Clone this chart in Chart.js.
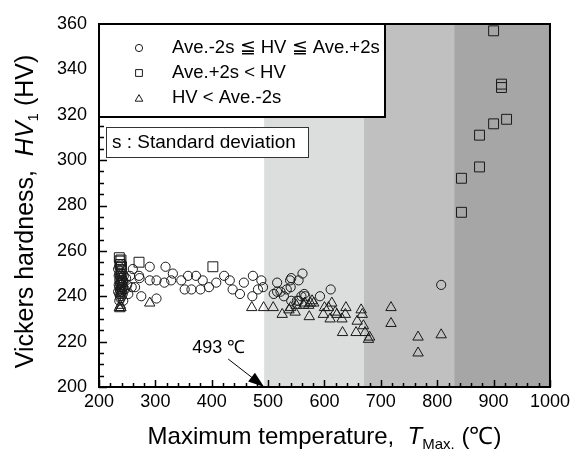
<!DOCTYPE html>
<html>
<head>
<meta charset="utf-8">
<script src="https://cdn.jsdelivr.net/npm/chart.js@4.4.1/dist/chart.umd.min.js"></script>
<style>
  body { margin: 0; background: #fff; }
  canvas { display: block; }
</style>
</head>
<body>
<canvas id="chart" width="574" height="450"></canvas>
<script>
// Maximum temperature (°C) and hardness (HV) per group
const withinT = [236, 236, 236, 236, 236, 236, 238, 238, 238, 238, 238, 238, 240, 240, 240, 240, 240,
  242, 242, 242, 242, 235, 235, 243, 243, 237, 237, 237, 237, 239, 239, 239, 239, 241, 241, 241,
  234, 234, 244, 244, 246, 248, 250, 252, 255, 258,
  260, 264, 271, 272, 275, 290, 290, 302, 302, 316, 318, 328, 331, 346, 352, 358, 364, 372, 380,
  384, 395, 408, 422, 432, 437, 450, 457, 472, 473, 482, 488, 491, 510, 516, 516, 522, 528, 533,
  539, 540, 541, 541, 551, 554, 554, 559, 561, 564, 566, 592, 611, 807];
const withinHV = [238, 241, 244, 247, 250, 253, 239, 242, 245, 248, 251, 254, 240, 243, 246, 249, 252,
  241, 244, 247, 250, 245, 249, 238, 246, 240, 243, 246, 249, 241, 244, 247, 250, 242, 245, 248,
  242, 252, 243, 249, 243, 248, 245, 241, 249, 244,
  252, 244, 249, 248, 240, 253, 247, 247, 239, 246, 253, 247, 250, 247, 243, 249, 243, 249, 243,
  247, 244, 246, 249, 247, 243, 241, 246, 240, 249, 243, 247, 244, 241, 246, 242, 242, 240, 243,
  247, 244, 248, 238, 238, 247, 238, 240, 250, 241, 240, 240, 243, 245];

const aboveT = [236, 237, 238, 239, 240, 271, 402, 843, 843, 875, 875, 900, 900, 914, 914, 923];
const aboveHV = [257, 255.5, 254, 256, 253, 255, 253, 277, 292, 297, 311, 316, 357, 332, 333.5, 318];

const belowT = [236, 237, 238, 239, 290, 471, 492, 509, 525, 537, 540, 548, 550, 563, 565, 572, 573,
  575, 578, 581, 598, 600, 607, 610, 613, 619, 622, 631, 632, 637, 638, 656, 658, 665, 667, 669,
  672, 678, 680, 718, 718, 766, 766, 807];
const belowHV = [235, 234.5, 236, 235, 237, 235, 235, 235, 232, 234, 235, 233, 236, 236, 237, 236, 231,
  237, 238, 237, 232, 235, 235, 230, 237, 233, 232, 230, 224, 232, 235, 224, 229, 234, 232, 227,
  224, 221, 222, 235, 228, 222, 215, 223];

const seriesLabels = ['Ave.-2s \u2266 HV \u2266 Ave.+2s', 'Ave.+2s < HV', 'HV < Ave.-2s'];

// heat-affected ranges along the temperature axis
const zoneEdges = [493, 670, 830, 1000];
const zoneFills = ['#dcdddd', '#c0c0c0', '#a6a6a6'];

const xMin = 200, xMax = 1000, xStep = 100, xMinor = 20;
const yMin = 200, yMax = 360, yStep = 20, yMinor = 5;
const markLabel = '493 \u2103';
const markT = 493;

const FONT = '"Liberation Sans", Arial, sans-serif';
const INK = '#1a1a1a';

function pts(xs, ys) {
  return xs.map((x, i) => ({ x: x, y: ys[i] }));
}

function drawMarker(ctx, style, x, y, r) {
  ctx.beginPath();
  if (style === 'circle') {
    ctx.arc(x, y, r, 0, Math.PI * 2);
  } else if (style === 'rect') {
    ctx.rect(x - r, y - r, 2 * r, 2 * r);
  } else {
    ctx.moveTo(x, y - r);
    ctx.lineTo(x + r * 0.87, y + r * 0.5);
    ctx.lineTo(x - r * 0.87, y + r * 0.5);
    ctx.closePath();
  }
  ctx.stroke();
}

// text pieces: [string, font, baseline shift]
function drawParts(ctx, parts, cx, cy) {
  let total = 0;
  parts.forEach(p => { ctx.font = p[1]; total += ctx.measureText(p[0]).width; });
  let x = cx - total / 2;
  parts.forEach(p => {
    ctx.font = p[1];
    ctx.fillText(p[0], x, cy + p[2]);
    x += ctx.measureText(p[0]).width;
  });
}

const decor = {
  id: 'decor',
  beforeDatasetsDraw(chart) {
    const { ctx, chartArea: a, scales: { x } } = chart;
    ctx.save();
    for (let i = 0; i < zoneFills.length; i++) {
      const x0 = x.getPixelForValue(zoneEdges[i]);
      const x1 = x.getPixelForValue(zoneEdges[i + 1]);
      ctx.fillStyle = zoneFills[i];
      ctx.fillRect(x0, a.top, x1 - x0, a.bottom - a.top);
    }
    ctx.restore();
  },
  afterDatasetsDraw(chart) {
    const { ctx, chartArea: a, scales: { x, y } } = chart;
    ctx.save();

    // inward ticks on bottom and left
    ctx.strokeStyle = '#000';
    ctx.lineWidth = 1.5;
    ctx.beginPath();
    for (let v = xMin; v <= xMax; v += xMinor) {
      const px = Math.round(x.getPixelForValue(v)) + 0.5;
      const len = v % xStep === 0 ? 7 : 4;
      ctx.moveTo(px, a.bottom);
      ctx.lineTo(px, a.bottom - len);
    }
    for (let v = yMin; v <= yMax; v += yMinor) {
      const py = Math.round(y.getPixelForValue(v)) + 0.5;
      const len = v % yStep === 0 ? 8 : 5;
      ctx.moveTo(a.left, py);
      ctx.lineTo(a.left + len, py);
    }
    ctx.stroke();

    // legend box
    const lx = a.left, ly = a.top, lw = 286, lh = 93;
    ctx.fillStyle = '#fff';
    ctx.fillRect(lx, ly, lw, lh);
    ctx.lineWidth = 2;
    ctx.strokeStyle = '#000';
    ctx.strokeRect(lx, ly, lw, lh);
    const styles = ['circle', 'rect', 'triangle'];
    const sizes = [3.6, 3.4, 4.4];
    ctx.font = '18.5px ' + FONT;
    ctx.textBaseline = 'middle';
    ctx.textAlign = 'left';
    for (let i = 0; i < 3; i++) {
      const ry = ly + 24 + i * 25;
      ctx.lineWidth = 1;
      ctx.strokeStyle = INK;
      drawMarker(ctx, styles[i], lx + 40, ry + (i === 2 ? 1 : 0), sizes[i]);
      ctx.fillStyle = '#000';
      ctx.fillText(seriesLabels[i], lx + 73, ry);
    }

    // note box
    ctx.fillStyle = '#fff';
    ctx.fillRect(a.left + 7, a.top + 103, 202, 30);
    ctx.lineWidth = 1;
    ctx.strokeStyle = '#333';
    ctx.strokeRect(a.left + 7.5, a.top + 103.5, 202, 30);
    ctx.fillStyle = '#000';
    ctx.font = '19px ' + FONT;
    ctx.fillText('s : Standard deviation', a.left + 13, a.top + 119);

    // plot frame
    ctx.lineWidth = 2;
    ctx.strokeStyle = '#000';
    ctx.strokeRect(a.left, a.top, a.right - a.left, a.bottom - a.top);

    // 493 °C arrow
    const tx = x.getPixelForValue(markT), ty = y.getPixelForValue(yMin);
    const sx = tx - 36, sy = ty - 28;
    const ang = Math.atan2(ty - sy, tx - sx);
    ctx.lineWidth = 1;
    ctx.beginPath();
    ctx.moveTo(sx, sy);
    ctx.lineTo(tx - 12 * Math.cos(ang), ty - 12 * Math.sin(ang));
    ctx.stroke();
    ctx.beginPath();
    ctx.moveTo(tx, ty);
    ctx.lineTo(tx - 16 * Math.cos(ang) + 5.5 * Math.sin(ang), ty - 16 * Math.sin(ang) - 5.5 * Math.cos(ang));
    ctx.lineTo(tx - 16 * Math.cos(ang) - 5.5 * Math.sin(ang), ty - 16 * Math.sin(ang) + 5.5 * Math.cos(ang));
    ctx.closePath();
    ctx.fillStyle = '#000';
    ctx.fill();
    ctx.font = '18px ' + FONT;
    ctx.textBaseline = 'alphabetic';
    ctx.fillText(markLabel, tx - 72, ty - 34);

    // axis titles
    const sub = '15px ' + FONT;
    ctx.fillStyle = '#000';
    drawParts(ctx, [
      ['Maximum temperature,  ', '24px ' + FONT, 0],
      ['T', 'italic 24px ' + FONT, 0],
      ['Max.', sub, 5],
      [' (\u2103)', '24px ' + FONT, 0]
    ], (a.left + a.right) / 2, 444);

    ctx.translate(33, (a.top + a.bottom) / 2 + 6);
    ctx.rotate(-Math.PI / 2);
    drawParts(ctx, [
      ['Vickers hardness,  ', '25px ' + FONT, 0],
      ['HV', 'italic 25px ' + FONT, 0],
      ['1', sub, 5],
      [' (HV)', '25px ' + FONT, 0]
    ], 0, 0);
    ctx.restore();
  }
};

const base = {
  borderColor: INK,
  backgroundColor: 'rgba(0,0,0,0)',
  borderWidth: 1,
  pointHoverRadius: 0
};

new Chart(document.getElementById('chart'), {
  type: 'scatter',
  data: {
    datasets: [
      Object.assign({ label: seriesLabels[0], data: pts(withinT, withinHV), pointStyle: 'circle', pointRadius: 4.6 }, base),
      Object.assign({ label: seriesLabels[1], data: pts(aboveT, aboveHV), pointStyle: 'rect', pointRadius: 7 }, base),
      Object.assign({ label: seriesLabels[2], data: pts(belowT, belowHV), pointStyle: 'triangle', pointRadius: 6 }, base)
    ]
  },
  options: {
    responsive: false,
    animation: false,
    layout: { padding: { top: 24, right: 21, left: 0, bottom: 0 } },
    scales: {
      x: {
        type: 'linear', min: xMin, max: xMax,
        grid: { display: false, drawTicks: false }, border: { display: false },
        ticks: { stepSize: xStep, autoSkip: false, maxRotation: 0, padding: 4, color: '#000',
          font: { family: FONT, size: 18 }, callback: v => String(v) },
        afterFit: s => { s.height = 63; }
      },
      y: {
        type: 'linear', min: yMin, max: yMax,
        grid: { display: false, drawTicks: false }, border: { display: false },
        ticks: { stepSize: yStep, padding: 12, color: '#000', font: { family: FONT, size: 18 },
          callback: v => String(v) },
        afterFit: s => { s.width = 99; }
      }
    },
    plugins: { legend: { display: false }, tooltip: { enabled: false } }
  },
  plugins: [decor]
});
</script>
</body>
</html>
